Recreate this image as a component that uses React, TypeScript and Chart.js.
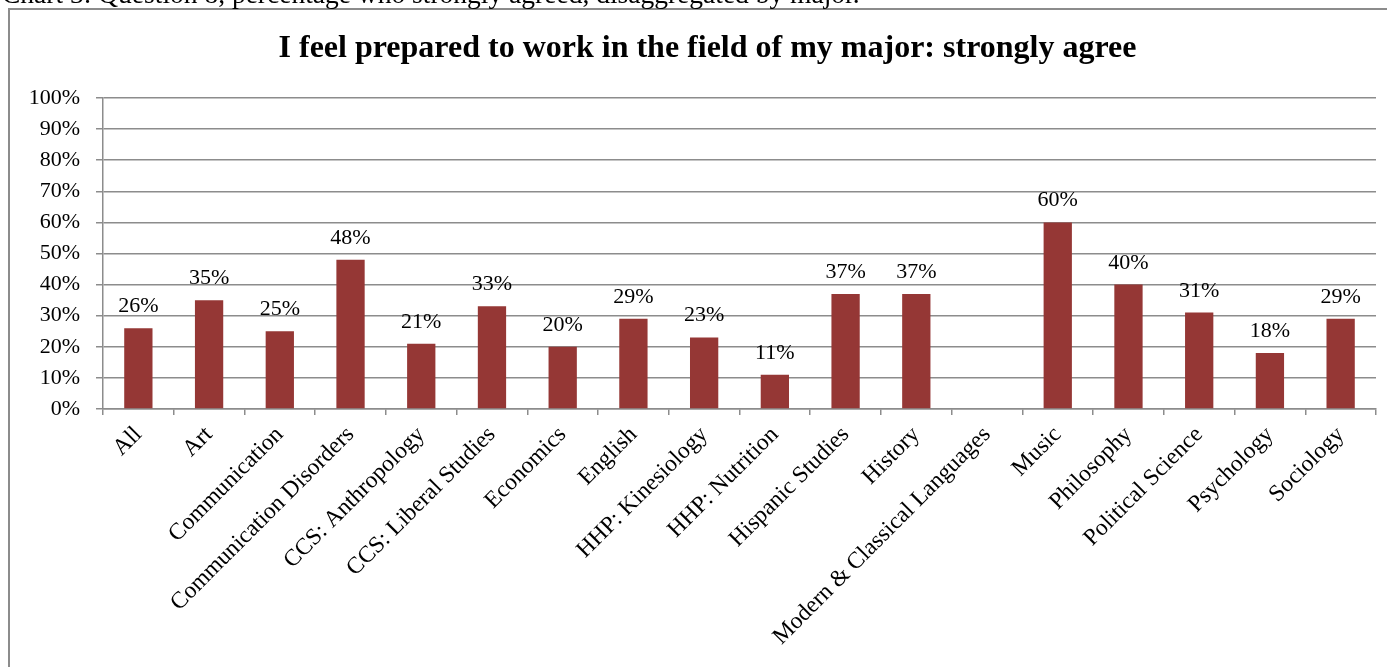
import React, { useEffect, useRef } from "react";
import { Chart, registerables } from "chart.js";

Chart.register(...registerables);

const CAPTION = "Chart 3: Question 8, percentage who strongly agreed, disaggregated by major.";
const TITLE = "I feel prepared to work in the field of my major: strongly agree";

const categories: string[] = [
  "All",
  "Art",
  "Communication",
  "Communication Disorders",
  "CCS: Anthropology",
  "CCS: Liberal Studies",
  "Economics",
  "English",
  "HHP: Kinesiology",
  "HHP: Nutrition",
  "Hispanic Studies",
  "History",
  "Modern & Classical Languages",
  "Music",
  "Philosophy",
  "Political Science",
  "Psychology",
  "Sociology",
];

const stronglyAgree: (number | null)[] = [
  26, 35, 25, 48, 21, 33, 20, 29, 23, 11, 37, 37, null, 60, 40, 31, 18, 29,
];

const yTicks: number[] = [0, 10, 20, 30, 40, 50, 60, 70, 80, 90, 100];

const SERIF = '"Liberation Serif", "Times New Roman", serif';
const BAR_COLOR = "#953735";
const GRID_COLOR = "#8c8c8c";

const dataLabelPlugin = {
  id: "dataLabels",
  afterDatasetsDraw(chart: any) {
    const ctx = chart.ctx;
    const meta = chart.getDatasetMeta(0);
    const values = chart.data.datasets[0].data;
    ctx.save();
    ctx.font = `22px ${SERIF}`;
    ctx.fillStyle = "#000";
    ctx.textAlign = "center";
    ctx.textBaseline = "alphabetic";
    meta.data.forEach((bar: any, i: number) => {
      const v = values[i];
      if (v === null || v === undefined) return;
      ctx.fillText(`${v}%`, bar.x, bar.y - 16);
    });
    ctx.restore();
  },
};

const centeredTitlePlugin = {
  id: "centeredTitle",
  afterDraw(chart: any) {
    const ctx = chart.ctx;
    ctx.save();
    ctx.font = `bold 32px ${SERIF}`;
    ctx.fillStyle = "#000";
    ctx.textAlign = "center";
    ctx.textBaseline = "middle";
    ctx.fillText(TITLE, chart.width / 2, 39);
    ctx.restore();
  },
};

export default function App() {
  const canvasRef = useRef<HTMLCanvasElement | null>(null);

  useEffect(() => {
    document.documentElement.style.overflow = "hidden";
    document.body.style.overflow = "hidden";
    const canvas = canvasRef.current;
    if (!canvas) return;
    const chart = new Chart(canvas, {
      type: "bar",
      data: {
        labels: categories,
        datasets: [
          {
            data: stronglyAgree as any,
            backgroundColor: BAR_COLOR,
            barPercentage: 0.4,
            categoryPercentage: 1,
          },
        ],
      },
      options: {
        animation: false,
        responsive: false,
        maintainAspectRatio: false,
        devicePixelRatio: 1,
        layout: { padding: { left: 0, right: 29, top: 88, bottom: 0 } },
        plugins: {
          legend: { display: false },
          tooltip: { enabled: false },
          title: { display: false },
        },
        scales: {
          x: {
            grid: {
              offset: true,
              drawOnChartArea: false,
              drawTicks: true,
              tickLength: 6,
              color: GRID_COLOR,
              lineWidth: 1.5,
            },
            border: { display: true, color: GRID_COLOR, width: 1.5 },
            ticks: {
              autoSkip: false,
              minRotation: 45,
              maxRotation: 45,
              padding: 6,
              color: "#000",
              font: { family: SERIF, size: 23.5 },
            },
            afterFit: (scale: any) => {
              scale.height = 291;
            },
          },
          y: {
            min: 0,
            max: 100,
            afterBuildTicks: (scale: any) => {
              scale.ticks = yTicks.map((v) => ({ value: v }));
            },
            grid: {
              color: GRID_COLOR,
              lineWidth: 1.5,
              tickLength: 7,
              drawTicks: true,
            },
            border: { display: true, color: GRID_COLOR, width: 1.5 },
            ticks: {
              padding: 16,
              color: "#000",
              font: { family: SERIF, size: 22 },
              callback: (v: any) => `${v}%`,
            },
            afterFit: (scale: any) => {
              scale.width = 93;
            },
          },
        },
      },
      plugins: [dataLabelPlugin, centeredTitlePlugin],
    });
    return () => chart.destroy();
  }, []);

  return (
    <div style={{ position: "relative", width: 1387, height: 700, overflow: "visible" }}>
      <div
        style={{
          position: "absolute",
          top: 0,
          left: 0,
          width: 1399,
          height: 700,
          boxSizing: "border-box",
          border: `2px solid ${GRID_COLOR}`,
        }}
      >
        <canvas ref={canvasRef} width={1395} height={690} style={{ display: "block" }} />
      </div>
      <div
        style={{
          position: "fixed",
          top: -20.5,
          left: 2,
          zIndex: 5,
          fontFamily: SERIF,
          fontSize: "27.5px",
          lineHeight: "27.5px",
          whiteSpace: "nowrap",
          color: "#000",
        }}
      >
        {CAPTION}
      </div>
    </div>
  );
}
